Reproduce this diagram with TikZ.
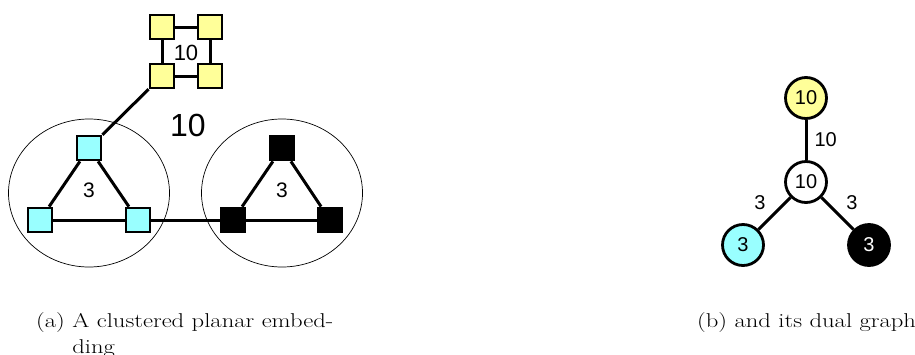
\documentclass[tikz,border=0pt]{standalone}
\usepackage{fontspec}
\newfontfamily\arialf{Liberation Sans}
\usetikzlibrary{shapes.geometric}
\definecolor{yel}{HTML}{FFFF99}
\definecolor{cya}{HTML}{99FFFF}
\newcommand{\capstretch}[1]{\scalebox{1.23}[1]{#1}}
\begin{document}
\begin{tikzpicture}[x=1pt,y=-1pt,
  sq/.style={draw,line width=2.8pt,minimum size=24pt,inner sep=0pt},
  ysq/.style={sq,fill=yel},
  csq/.style={sq,fill=cya},
  bsq/.style={sq,fill=black},
  edg/.style={line width=3pt},
  clus/.style={ellipse,draw,line width=0.7pt,minimum width=161pt,minimum height=148pt,inner sep=0pt},
  lab/.style={font=\arialf\fontsize{21}{21}\selectfont,inner sep=0pt},
  dn/.style={circle,draw,line width=2.8pt,minimum size=41pt,inner sep=0pt,font=\arialf\fontsize{20}{20}\selectfont},
  elab/.style={font=\arialf\fontsize{20}{20}\selectfont,inner sep=0pt},
  captxt/.style={font=\fontsize{20}{26}\selectfont,inner sep=0pt,align=left}]
\useasboundingbox (0,0) rectangle (915,354);
% clusters
\node[clus] (c1) at (89,193) {};
\node[clus] (c2) at (282,193) {};
% yellow cycle
\node[ysq] (y1) at (162,27) {};
\node[ysq] (y2) at (210,27) {};
\node[ysq] (y3) at (162,76) {};
\node[ysq] (y4) at (210,76) {};
\node[lab,font=\arialf\fontsize{22}{22}\selectfont] (ly) at (186,53) {10};
% cyan triangle
\node[csq] (a1) at (89,148) {};
\node[csq] (a2) at (40,220) {};
\node[csq] (a3) at (138,220) {};
% black triangle
\node[bsq] (b1) at (282,148) {};
\node[bsq] (b2) at (233,220) {};
\node[bsq] (b3) at (330,220) {};
% labels
\node[lab] (l1) at (89,190) {3};
\node[lab] (l2) at (282,190) {3};
\node[lab,font=\arialf\fontsize{32}{32}\selectfont] (lo) at (188,125) {10};
% edges
\draw[edg] (y1) -- (y2);
\draw[edg] (y2) -- (y4);
\draw[edg] (y4) -- (y3);
\draw[edg] (y3) -- (y1);
\draw[edg] (y3) -- (a1);
\draw[edg] (a1) -- (a2);
\draw[edg] (a2) -- (a3);
\draw[edg] (a3) -- (a1);
\draw[edg] (a3) -- (b2);
\draw[edg] (b1) -- (b2);
\draw[edg] (b2) -- (b3);
\draw[edg] (b3) -- (b1);
% dual graph
\node[dn,fill=yel] (dy) at (806,98) {10};
\node[dn,fill=white] (dw) at (806,182) {10};
\node[dn,fill=cya] (dc) at (743,245) {3};
\node[dn,fill=black,text=white] (db) at (869,245) {3};
\draw[edg] (dy) -- node[elab,right=7pt] (e1) {10} (dw);
\draw[edg] (dw) -- (dc);
\draw[edg] (dw) -- (db);
\node[elab] (e2) at (760,203) {3};
\node[elab] (e3) at (852,203) {3};
% captions
\node[captxt,anchor=base west] (capa) at (36,353) {\capstretch{(a) A clustered planar embed-}\\\capstretch{\hphantom{(a) }ding}};
\node[captxt,anchor=base west] (capb) at (697,327) {\capstretch{(b) and its dual graph}};
\end{tikzpicture}
\end{document}
